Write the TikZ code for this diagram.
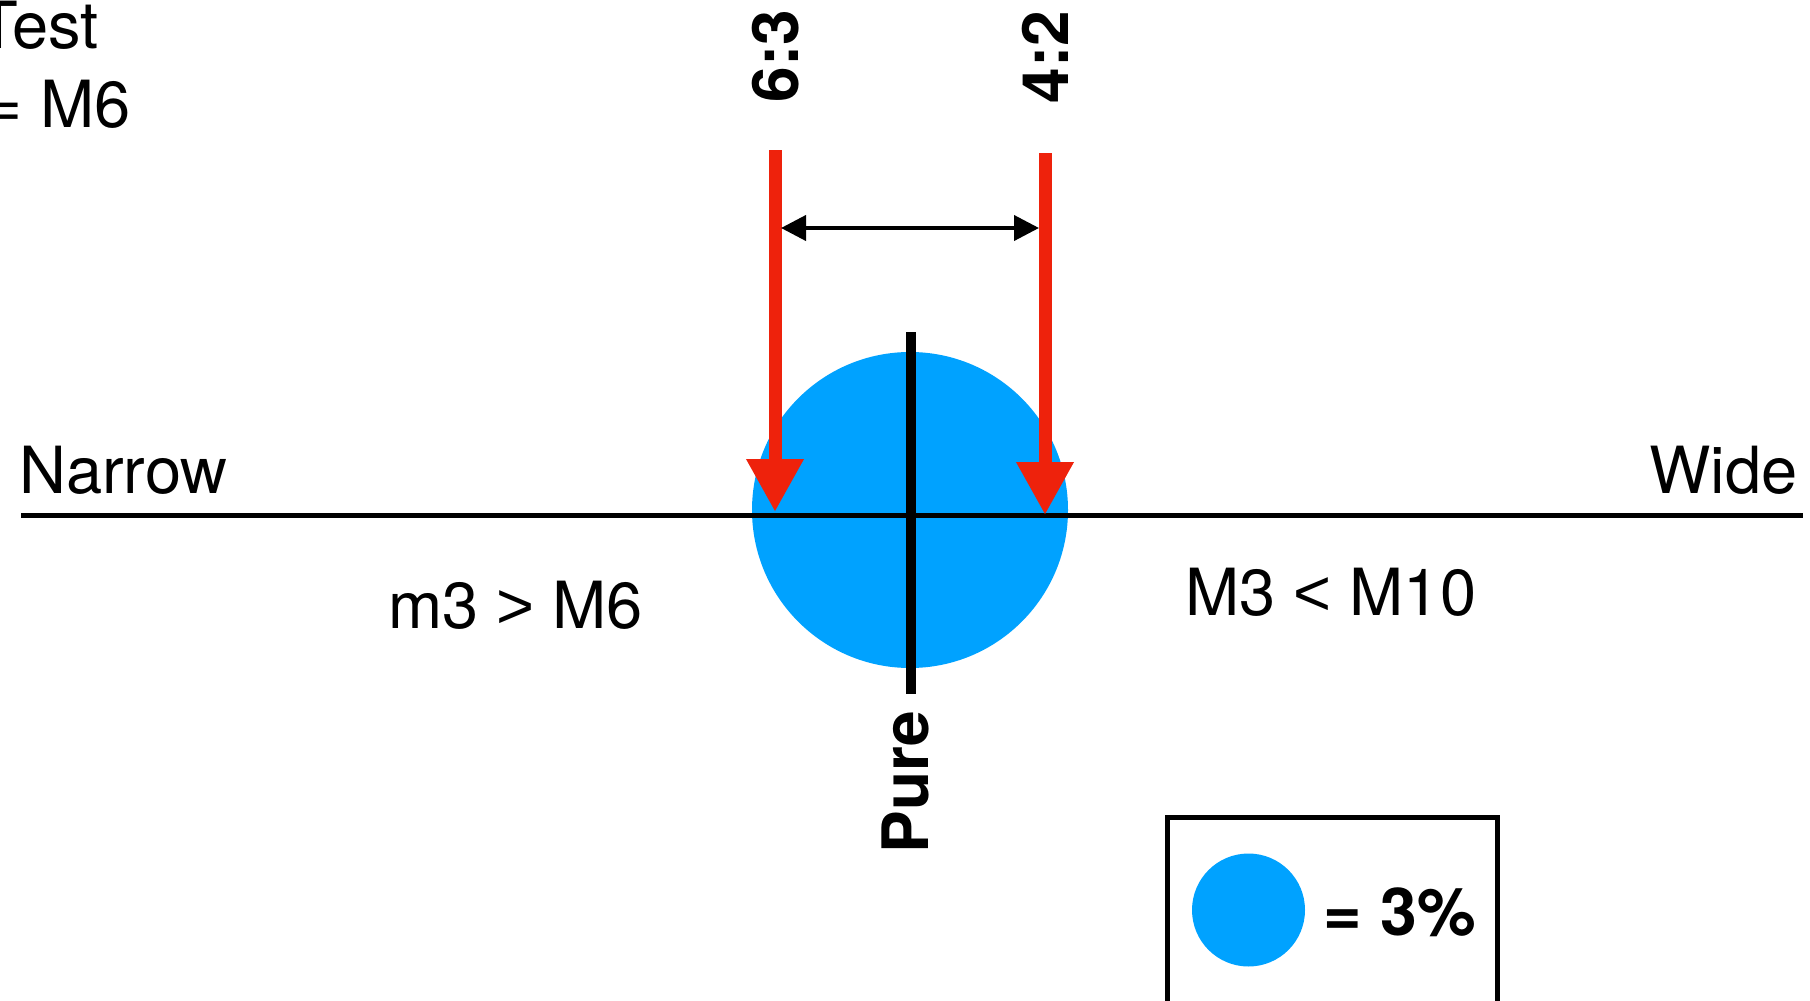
\documentclass[tikz,border=0pt]{standalone}
\usepackage{fontspec}
\setmainfont{TeX Gyre Heros}
\newfontfamily\symfont{Liberation Sans}
\usetikzlibrary{arrows.meta}
\definecolor{kblue}{HTML}{00A2FF}
\definecolor{kred}{HTML}{EE220C}
\tikzset{
  lab/.style={inner sep=0pt, font=\fontsize{32.5pt}{36pt}\selectfont},
  blab/.style={inner sep=0pt, font=\fontsize{32pt}{36pt}\selectfont\bfseries},
  redarrow/.style={draw=kred, line width=6.5pt, -{Triangle[width=27pt,length=26.5pt]}, fill=kred},
  dimarrow/.style={draw=black, line width=2pt, {Triangle[width=12.5pt,length=12.5pt]}-{Triangle[width=12.5pt,length=12.5pt]}},
}
\begin{document}
\begin{tikzpicture}[x=0.5pt,y=-0.5pt]
\useasboundingbox (0,0) rectangle (1810,1001);
\clip (0,0) rectangle (1810,1001);
\fill[white] (0,0) rectangle (1810,1001);
% main bubble
\fill[kblue] (910,510) circle[radius=158];
% axes
\coordinate (hl) at (21,515.5);
\coordinate (hr) at (1803,515.5);
\draw[line width=2.5pt] (hl) -- (hr);
\coordinate (vt) at (910.5,332);
\coordinate (vb) at (910.5,694);
\draw[line width=5pt] (vt) -- (vb);
% red arrows
\coordinate (r1s) at (775,150);
\coordinate (r1e) at (775,512);
\coordinate (r2s) at (1045,153);
\coordinate (r2e) at (1045,515);
\draw[redarrow] (r1s) -- (r1e);
\draw[redarrow] (r2s) -- (r2e);
% dimension arrow
\coordinate (d1) at (781,228);
\coordinate (d2) at (1039,228);
\draw[dimarrow] (d1) -- (d2);
% labels
\node[blab, rotate=90] (l63) at (776,56) {6:3};
\node[blab, rotate=90] (l42) at (1045,57) {4:2};
\node[blab, rotate=90] (pure) at (905.5,782) {Pure};
\node[lab, anchor=base west] (narrow) at (19,493) {Narrow};
\node[lab, anchor=base east] (wide) at (1798,493) {Wide};
\node[lab, anchor=base west] (left) at (388,628) {m3 {\symfont >} M6};
\node[lab, anchor=base west] (right) at (1185,615) {M3 {\symfont <} M10};
\node[lab, anchor=base east] (test) at (99,48) {Test};
\node[lab, anchor=base east] (eq) at (131,127) {= M6};
% legend
\draw[line width=2.5pt] (1167,817) rectangle (1497,1003);
\fill[kblue] (1248.5,910) circle[radius=56.5];
\node[blab, anchor=base west, font=\fontsize{33pt}{36pt}\selectfont\bfseries] (leg) at (1323,935) {= 3\%};
\end{tikzpicture}
\end{document}
